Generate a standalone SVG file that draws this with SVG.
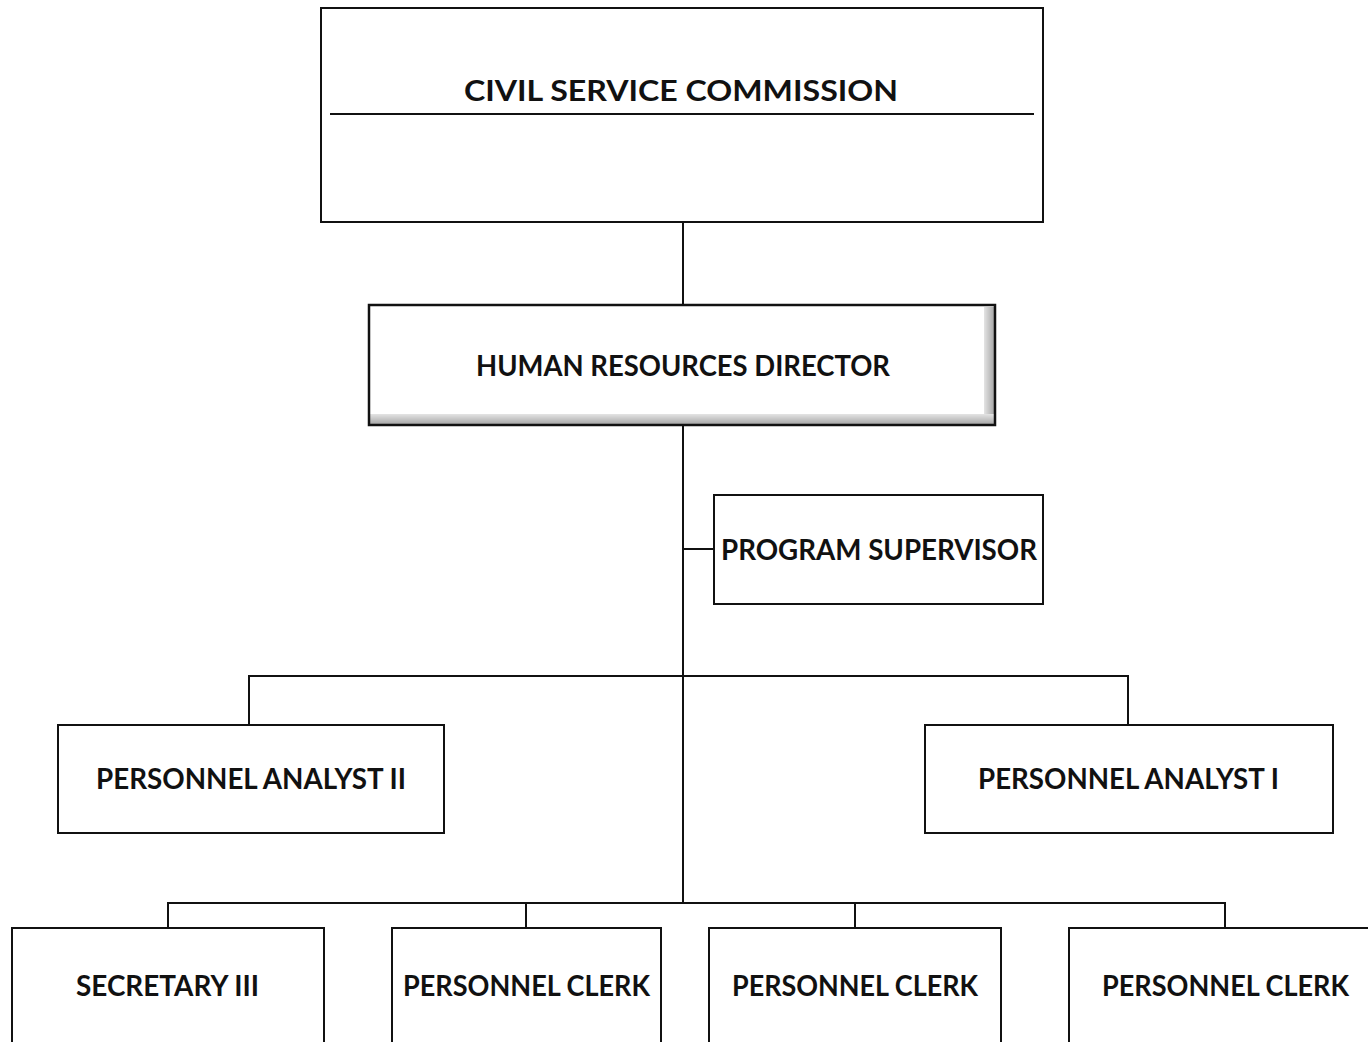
<svg xmlns="http://www.w3.org/2000/svg" width="1368" height="1042" viewBox="0 0 1368 1042">
<defs>
<linearGradient id="shR" x1="0" y1="0" x2="1" y2="0">
<stop offset="0" stop-color="#e4e4e4"/>
<stop offset="1" stop-color="#a8a8a8"/>
</linearGradient>
<linearGradient id="shB" x1="0" y1="0" x2="0" y2="1">
<stop offset="0" stop-color="#e4e4e4"/>
<stop offset="1" stop-color="#a8a8a8"/>
</linearGradient>
</defs>
<style>
.box{fill:#fff;stroke:#111;stroke-width:2}
.lbl{font-family:Lato,"Open Sans","Liberation Sans",sans-serif;font-weight:bold;font-size:28px;fill:#111}
.conn{fill:none;stroke:#111;stroke-width:2}
</style>
<rect width="1368" height="1042" fill="#fff"/>
<g id="connectors" class="conn">
<path d="M683 222V304"/>
<path d="M683 425V903"/>
<path d="M683 549H713"/>
<path d="M249 724V676H1128V724"/>
<path d="M168 927V903H1225V927"/>
<path d="M526 903V927"/>
<path d="M855 903V927"/>
</g>
<g id="civil-service-commission">
<rect class="box" x="321" y="8" width="722" height="214"/>
<line x1="330" y1="114" x2="1034" y2="114" stroke="#111" stroke-width="2"/>
<text class="lbl" x="464" y="101" textLength="434" lengthAdjust="spacingAndGlyphs">CIVIL SERVICE COMMISSION</text>
</g>
<g id="human-resources-director">
<rect x="369" y="305" width="626" height="120" fill="#fff"/>
<rect x="984" y="307" width="10" height="117" fill="url(#shR)"/>
<rect x="370" y="414" width="624" height="10" fill="url(#shB)"/>
<rect x="369" y="305" width="626" height="120" fill="none" stroke="#111" stroke-width="2.5"/>
<text class="lbl" x="476" y="376" textLength="414" lengthAdjust="spacingAndGlyphs">HUMAN RESOURCES DIRECTOR</text>
</g>
<g id="program-supervisor">
<rect class="box" x="714" y="495" width="329" height="109"/>
<text class="lbl" x="721" y="560" textLength="316" lengthAdjust="spacingAndGlyphs">PROGRAM SUPERVISOR</text>
</g>
<g id="personnel-analyst-ii">
<rect class="box" x="58" y="725" width="386" height="108"/>
<text class="lbl" x="96" y="789" textLength="310" lengthAdjust="spacingAndGlyphs">PERSONNEL ANALYST II</text>
</g>
<g id="personnel-analyst-i">
<rect class="box" x="925" y="725" width="408" height="108"/>
<text class="lbl" x="978" y="789" textLength="301" lengthAdjust="spacingAndGlyphs">PERSONNEL ANALYST I</text>
</g>
<g id="secretary-iii">
<rect class="box" x="12" y="928" width="312" height="130"/>
<text class="lbl" x="76" y="996" textLength="183" lengthAdjust="spacingAndGlyphs">SECRETARY III</text>
</g>
<g id="personnel-clerk-1">
<rect class="box" x="392" y="928" width="269" height="130"/>
<text class="lbl" x="403" y="996" textLength="247" lengthAdjust="spacingAndGlyphs">PERSONNEL CLERK</text>
</g>
<g id="personnel-clerk-2">
<rect class="box" x="709" y="928" width="292" height="130"/>
<text class="lbl" x="732" y="996" textLength="246" lengthAdjust="spacingAndGlyphs">PERSONNEL CLERK</text>
</g>
<g id="personnel-clerk-3">
<rect class="box" x="1069" y="928" width="320" height="130"/>
<text class="lbl" x="1102" y="996" textLength="247" lengthAdjust="spacingAndGlyphs">PERSONNEL CLERK</text>
</g>
</svg>
